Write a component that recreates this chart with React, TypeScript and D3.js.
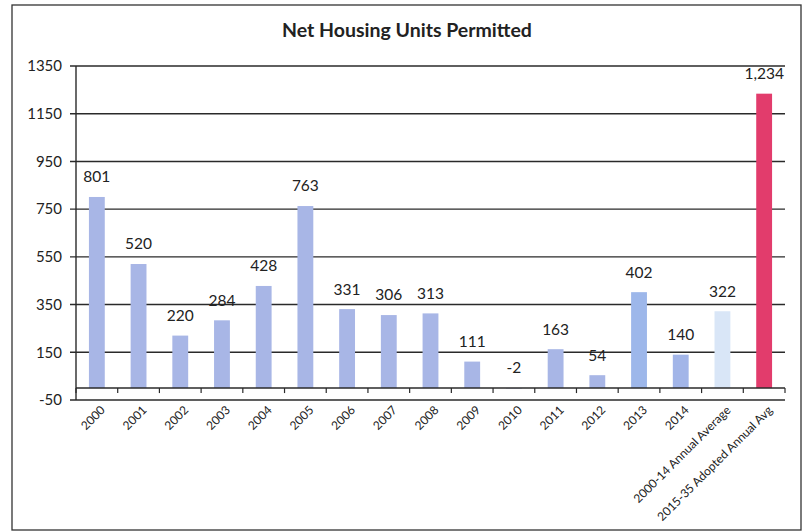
import React from "react";
import * as d3 from "d3";

const categories = ["2000","2001","2002","2003","2004","2005","2006","2007","2008","2009","2010","2011","2012","2013","2014","2000-14 Annual Average","2015-35 Adopted Annual Avg"];
const values = [801,520,220,284,428,763,331,306,313,111,-2,163,54,402,140,322,1234];
const labels = ["801","520","220","284","428","763","331","306","313","111","-2","163","54","402","140","322","1,234"];
const barColors = ["#a8b6e6","#a8b6e6","#a8b6e6","#a8b6e6","#a8b6e6","#a8b6e6","#a8b6e6","#a8b6e6","#a8b6e6","#a8b6e6","#a8b6e6","#a8b6e6","#a8b6e6","#9db7ea","#a2b5e8","#d9e6f7","#e23c6c"];
const yTicks = [-50,150,350,550,750,950,1150,1350];
const title = "Net Housing Units Permitted";

const W = 804, H = 532;
const M = { left: 76, right: 785, top: 66, bottom: 400 };
const FONT = "Lato, 'Open Sans', sans-serif";

export default function App() {
  const x = d3.scaleBand<string>().domain(categories).range([M.left, M.right]).paddingInner(0.62).paddingOuter(0.31);
  const y = d3.scaleLinear().domain([-50, 1350]).range([M.bottom, M.top]);
  const bounds = d3.range(categories.length + 1).map(i => M.left + i * (M.right - M.left) / categories.length);
  const center = (c: string) => (x(c) as number) + x.bandwidth() / 2;
  return (
    <svg width={W} height={H} style={{ position: "absolute", left: 0, top: 0 }} fontFamily={FONT}>
      <rect x={0} y={0} width={W} height={H} fill="#ffffff" />
      <rect x={12} y={5} width={789} height={525} fill="none" stroke="#333" strokeWidth={1.3} />
      <text x={407} y={37} textAnchor="middle" fontSize={19.5} fontWeight="bold" fill="#222">{title}</text>
      {yTicks.map(t => (
        <g key={t}>
          <line x1={M.left - 6} x2={M.right} y1={y(t)} y2={y(t)} stroke="#2a2a2a" strokeWidth={1.4} />
          <text x={M.left - 14} y={y(t)} dy="0.35em" textAnchor="end" fontSize={15} fill="#222">{t}</text>
        </g>
      ))}
      <line x1={M.left} x2={M.left} y1={M.top} y2={M.bottom} stroke="#2a2a2a" strokeWidth={1.4} />
      {categories.map((c, i) => {
        const v = values[i];
        const y0 = y(0), y1 = y(v);
        return (
          <rect key={c} x={x(c)} y={Math.min(y0, y1)} width={x.bandwidth()} height={Math.abs(y1 - y0)} fill={barColors[i]} />
        );
      })}
      <line x1={M.left} x2={M.right} y1={y(0)} y2={y(0)} stroke="#2a2a2a" strokeWidth={1.4} />
      {bounds.map((b, i) => (
        <line key={i} x1={b} x2={b} y1={y(0)} y2={y(0) + 5} stroke="#2a2a2a" strokeWidth={1.2} />
      ))}
      {categories.map((c, i) => (
        <text key={c} x={center(c)} y={y(Math.max(values[i], 0)) - 20} dy="0.35em" textAnchor="middle" fontSize={15.5} fill="#222">{labels[i]}</text>
      ))}
      {categories.map(c => (
        <text key={c} transform={`translate(${center(c) + 3},${M.bottom + 5}) rotate(-45)`} textAnchor="end" dy="0.7em" fontSize={12} fill="#222">{c}</text>
      ))}
    </svg>
  );
}
